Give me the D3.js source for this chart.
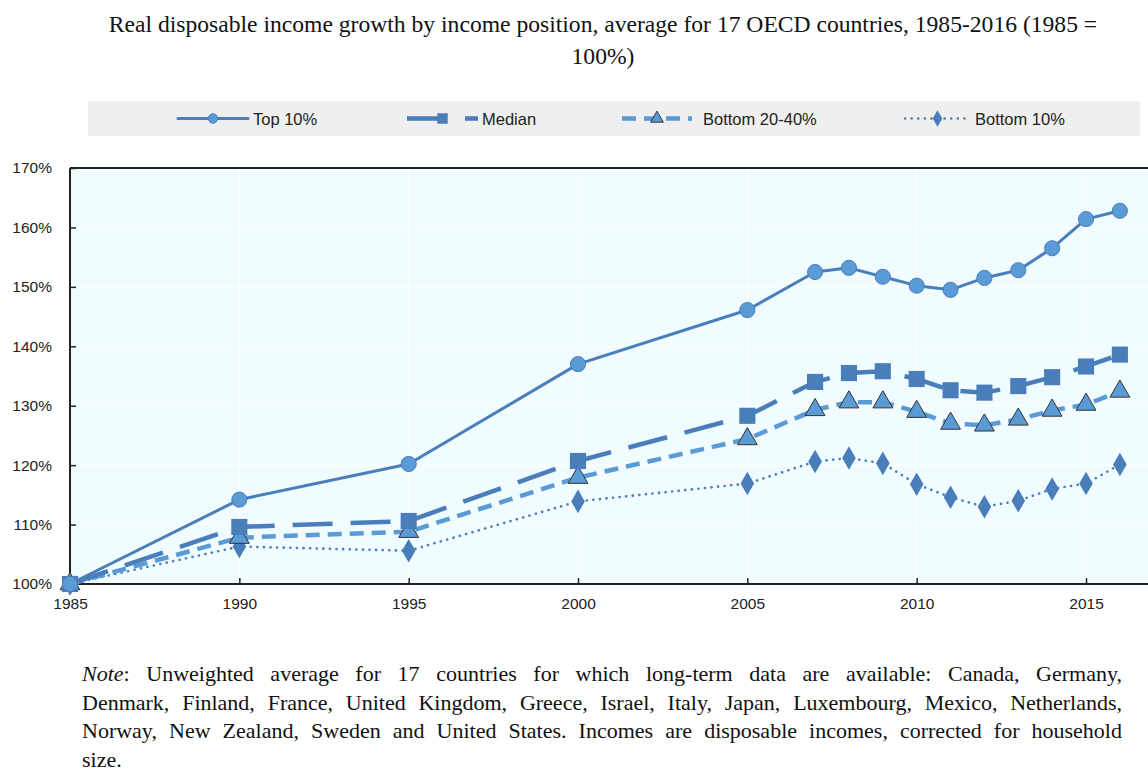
<!DOCTYPE html>
<html><head><meta charset="utf-8">
<script src="https://cdn.jsdelivr.net/npm/d3@7"></script>
<style>
html,body{margin:0;padding:0;background:#fff;}
#wrap{position:relative;width:1148px;height:771px;overflow:hidden;}
svg{position:absolute;left:0;top:0;}
.note{position:absolute;left:82px;width:1040px;font-family:"Liberation Serif","Times New Roman",serif;font-size:22px;color:#111;text-align:justify;text-align-last:justify;white-space:nowrap;line-height:18px;height:18px;}
.note.last{text-align-last:left;}
</style></head>
<body><div id="wrap"></div>
<script>
const years = [1985, 1990, 1995, 2000, 2005, 2007, 2008, 2009, 2010, 2011, 2012, 2013, 2014, 2015, 2016];
const top10 = [100, 114.2, 120.2, 137.0, 146.1, 152.5, 153.2, 151.7, 150.2, 149.5, 151.5, 152.8, 156.5, 161.4, 162.8];
const median = [100, 109.6, 110.6, 120.7, 128.3, 134.0, 135.5, 135.8, 134.5, 132.6, 132.2, 133.3, 134.8, 136.6, 138.6];
const bottom2040 = [100, 107.8, 108.8, 117.9, 124.4, 129.3, 130.6, 130.6, 129.0, 127.0, 126.7, 127.7, 129.2, 130.2, 132.4];
const bottom10 = [100, 106.3, 105.6, 113.9, 116.9, 120.6, 121.2, 120.3, 116.8, 114.6, 113.0, 114.0, 116.0, 116.9, 120.1];
const seriesNames = ["Top 10%", "Median", "Bottom 20-40%", "Bottom 10%"];
const xTicks = [1985, 1990, 1995, 2000, 2005, 2010, 2015];
const yTicks = [100, 110, 120, 130, 140, 150, 160, 170];
const titleLines = ["Real disposable income growth by income position, average for 17 OECD countries, 1985-2016 (1985 =", "100%)"];
const noteLines = [
  ["Unweighted average for 17 countries for which long-term data are available: Canada, Germany,"],
  ["Denmark, Finland, France, United Kingdom, Greece, Israel, Italy, Japan, Luxembourg, Mexico, Netherlands,"],
  ["Norway, New Zealand, Sweden and United States. Incomes are disposable incomes, corrected for household"],
  ["size."]
];

const W = 1148, H = 771;
const wrap = d3.select("#wrap");
const svg = wrap.append("svg").attr("width", W).attr("height", H);
const sans = '"Liberation Sans Narrow","Arial Narrow","Liberation Sans",Arial,sans-serif';

const x = d3.scaleLinear().domain([1985, 2016.83]).range([70, 1148]);
const y = d3.scaleLinear().domain([100, 170]).range([584, 168]);

// title
svg.append("g").selectAll("text").data(titleLines).join("text")
  .attr("x", 603).attr("y", (d, i) => 32 + i * 32)
  .attr("text-anchor", "middle")
  .style("font-family", '"Liberation Serif","Times New Roman",serif')
  .style("font-size", "23.6px").attr("fill", "#111").text(d => d);

// plot background
svg.append("rect").attr("x", x(1985)).attr("y", y(170)).attr("width", x.range()[1] - x(1985)).attr("height", y(100) - y(170)).attr("fill", "#F0FCFF");

// grid
const grid = svg.append("g").attr("stroke", "#ffffff").attr("stroke-width", 1);
grid.selectAll(".gy").data(yTicks).join("line").attr("x1", x(1985)).attr("x2", W).attr("y1", d => y(d)).attr("y2", d => y(d));
grid.selectAll(".gx").data(xTicks).join("line").attr("x1", d => x(d)).attr("x2", d => x(d)).attr("y1", y(170)).attr("y2", y(100));

// top border
svg.append("line").attr("x1", x(1985)).attr("x2", W).attr("y1", y(170)).attr("y2", y(170)).attr("stroke", "#222").attr("stroke-width", 2);

// axes
const yAxis = svg.append("g").attr("transform", `translate(${x(1985)},0)`)
  .call(d3.axisLeft(y).tickValues(yTicks).tickSize(-6).tickPadding(18).tickFormat(d => d + "%"));
const xAxis = svg.append("g").attr("transform", `translate(0,${y(100)})`)
  .call(d3.axisBottom(x).tickValues(xTicks).tickSize(-6).tickPadding(14).tickFormat(d3.format("d")));
[yAxis, xAxis].forEach(a => {
  a.select(".domain").attr("stroke", "#222").attr("stroke-width", 2);
  a.selectAll(".tick line").attr("stroke", "#222").attr("stroke-width", 1.5);
  a.selectAll("text").style("font-family", sans).style("font-size", "15.5px").attr("fill", "#222");
});
xAxis.select(".domain").attr("d", `M${x(1985)},0H${W}`);
yAxis.select(".domain").attr("d", `M0,${y(170)}V${y(100)}`);

const dark = "#4A7EBB", light = "#5B9BD5";
const series = [
  {name: seriesNames[0], vals: top10, stroke: dark, width: 3, dash: null, cap: "round", sym: d3.symbolCircle, size: 180, fill: light, mstroke: "#4A7EBB", msw: 1, lsize: 70},
  {name: seriesNames[1], vals: median, stroke: dark, width: 4.5, dash: "40,18", cap: "butt", sym: d3.symbolSquare, size: 260, fill: dark, mstroke: "none", msw: 0, lsize: 110},
  {name: seriesNames[2], vals: bottom2040, stroke: light, width: 4.5, dash: "14,8", cap: "butt", sym: d3.symbolTriangle, size: 170, fill: light, mstroke: "#333", msw: 1, lsize: 70},
  {name: seriesNames[3], vals: bottom10, stroke: dark, width: 2.6, dash: "0.1,6.5", cap: "round", sym: d3.symbolDiamond, size: 160, fill: dark, mstroke: "none", msw: 0, lsize: 80}
];

const line = d3.line().x((d, i) => x(years[i])).y(d => y(d));
const plot = svg.append("g");
series.slice().reverse().forEach(s => {
  plot.append("path").datum(s.vals).attr("d", line).attr("fill", "none")
    .attr("stroke", s.stroke).attr("stroke-width", s.width).attr("stroke-linecap", s.cap).attr("stroke-linejoin", "round")
    .attr("stroke-dasharray", s.dash);
  plot.append("g").selectAll("path").data(s.vals).join("path")
    .attr("transform", (d, i) => `translate(${x(years[i])},${y(d)})`)
    .attr("d", d3.symbol(s.sym, s.size)).attr("fill", s.fill).attr("stroke", s.mstroke).attr("stroke-width", s.msw);
});

// legend
svg.append("rect").attr("x", 88).attr("y", 101).attr("width", 1052).attr("height", 35).attr("fill", "#EFEFEF");
const legX = [[178, 248, 253], [407, 478, 482], [622, 692, 703], [905, 970, 975]];
const leg = svg.append("g");
series.forEach((s, i) => {
  const [a, b, t] = legX[i];
  const g = leg.append("g");
  g.append("line").attr("x1", a).attr("x2", b).attr("y1", 118.5).attr("y2", 118.5)
    .attr("stroke", s.stroke).attr("stroke-width", s.width).attr("stroke-linecap", s.cap).attr("stroke-dasharray", s.dash);
  g.append("path").attr("transform", `translate(${(a + b) / 2},118.5)`).attr("d", d3.symbol(s.sym, s.lsize))
    .attr("fill", s.fill).attr("stroke", s.mstroke).attr("stroke-width", s.msw);
  g.append("text").attr("x", t).attr("y", 124.5).text(s.name)
    .style("font-family", sans).style("font-size", "16.5px").attr("fill", "#222");
});

// note
noteLines.forEach((l, i) => {
  const div = wrap.append("div").attr("class", "note" + (i === noteLines.length - 1 ? " last" : "")).style("top", (665 + i * 28.7) + "px");
  if (i === 0) { div.append("i").text("Note"); div.append("span").text(": " + l[0]); }
  else div.text(l[0]);
});
</script></body></html>
